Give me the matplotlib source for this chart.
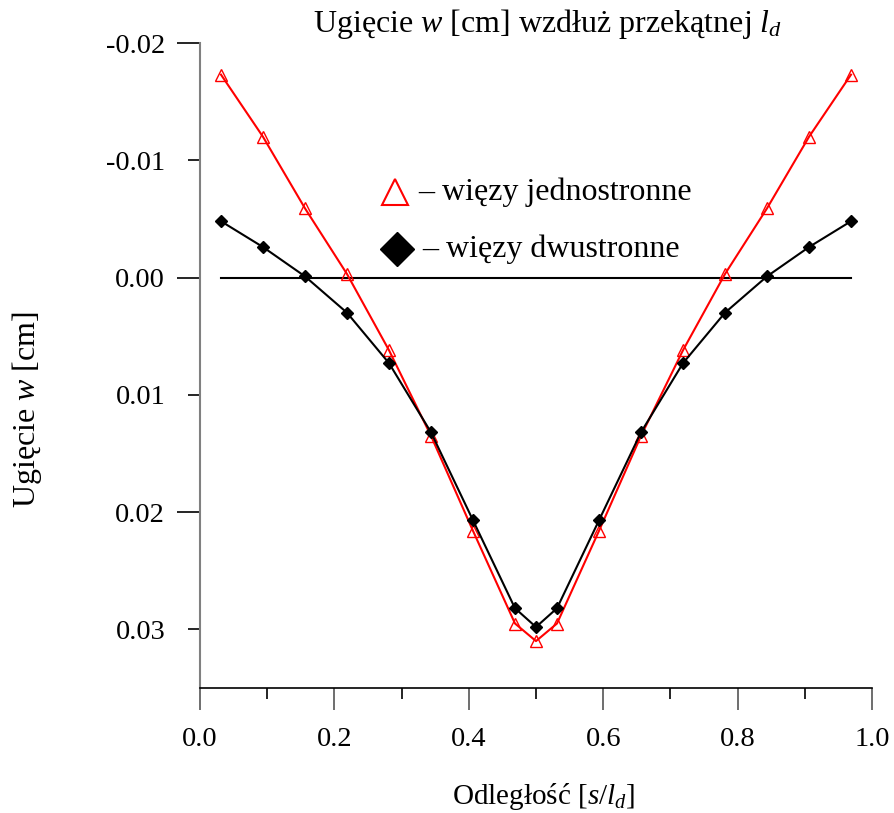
import matplotlib
matplotlib.use("Agg")
import matplotlib.pyplot as plt
from matplotlib.ticker import FixedLocator

plt.rcParams['font.family'] = ['Liberation Serif', 'DejaVu Serif']
plt.rcParams['mathtext.fontset'] = 'custom'
plt.rcParams['mathtext.rm'] = 'Liberation Serif'
plt.rcParams['mathtext.it'] = 'Liberation Serif:italic'

# data
s = [1/32, 3/32, 5/32, 7/32, 9/32, 11/32, 13/32, 15/32, 16/32,
     17/32, 19/32, 21/32, 23/32, 25/32, 27/32, 29/32, 31/32]
w_jedno = [-0.0173, -0.0120, -0.0059, -0.0003, 0.0062, 0.0135, 0.0216, 0.0295, 0.0310,
           0.0295, 0.0216, 0.0135, 0.0062, -0.0003, -0.0059, -0.0120, -0.0173]
w_dwu = [-0.0048, -0.0026, -0.0001, 0.0030, 0.0073, 0.0132, 0.0207, 0.0282, 0.0298,
         0.0282, 0.0207, 0.0132, 0.0073, 0.0030, -0.0001, -0.0026, -0.0048]
xticks = [0.0, 0.2, 0.4, 0.6, 0.8, 1.0]
xminor = [0.1, 0.3, 0.5, 0.7, 0.9]
yticks = [-0.02, -0.01, 0.00, 0.01, 0.02, 0.03]
ytick_labels = ['-0.02', '-0.01', '0.00', '0.01', '0.02', '0.03']
ylong = [-0.02, 0.00, 0.02]

fig = plt.figure(figsize=(8.95, 8.13), dpi=100)
ax = fig.add_axes([200/895, 1-688/813, 672/895, 645/813])

ax.plot([s[0], s[-1]], [0, 0], color='black', lw=1.5, zorder=1)
ax.plot(s, w_jedno, color='#ff0000', lw=1.5, marker='^', ms=9,
        mfc='none', mec='#ff0000', mew=1.0, zorder=2)
ax.plot(s, w_dwu, color='black', lw=1.5, marker='D', ms=6.2,
        mfc='black', mec='black', zorder=3)

ax.set_xlim(0, 1)
ax.set_ylim(0.035, -0.02)

for sp in ['top', 'right']:
    ax.spines[sp].set_visible(False)
ax.spines['left'].set_color('#808080')
ax.spines['left'].set_linewidth(1.5)
ax.spines['bottom'].set_color('black')
ax.spines['bottom'].set_linewidth(1.2)

ax.set_xticks(xticks)
ax.set_xticklabels([f'{v:.1f}' for v in xticks])
ax.xaxis.set_minor_locator(FixedLocator(xminor))
ax.set_yticks(yticks)
ax.set_yticklabels(ytick_labels)

ax.tick_params(axis='x', which='major', length=16, width=1.2, color='#555555',
               direction='out', labelsize=20.5, pad=12)
ax.tick_params(axis='x', which='minor', length=8, width=1.2, color='black', direction='out')
ax.tick_params(axis='y', which='major', length=8.6, width=1.2, color='black',
               direction='out', labelsize=20.5, pad=16.5)
for i, t in enumerate(ax.yaxis.get_major_ticks()):
    if yticks[i] in ylong:
        t.tick1line.set_markersize(16.5)
        t.tick1line.set_color('#555555')
ax.xaxis.get_major_ticks()[0].tick1line.set_color('#808080')

# legend (manual)
ax.plot([0.29], [-0.0073], marker='^', ms=19, mfc='none', mec='#ff0000', mew=1.5,
        clip_on=False)
ax.text(0.325, -0.0073, '– więzy jednostronne', fontsize=23, va='center', ha='left')
ax.plot([0.293], [-0.0024], marker='D', ms=17, mfc='black', mec='black', clip_on=False)
ax.text(0.33, -0.0024, '– więzy dwustronne', fontsize=23, va='center', ha='left')

fig.text(548/895, 1-24/813, r'Ugięcie $w$ [cm] wzdłuż przekątnej $l_d$', fontsize=23,
         ha='center', va='center')
fig.text(543/895, 1-796/813, r'Odległość [$s/l_d$]', fontsize=21, ha='center', va='center')
fig.text(27/895, 1-410/813, r'Ugięcie $w$ [cm]', fontsize=23, ha='center', va='center',
         rotation=90)

fig.savefig('out.png', dpi=100)
